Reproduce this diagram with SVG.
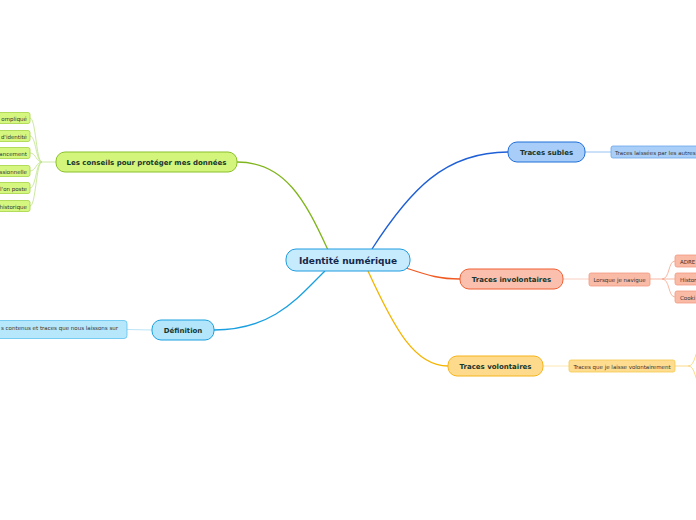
<svg xmlns="http://www.w3.org/2000/svg" width="696" height="520" viewBox="0 0 696 520">
<style>
.main{font-family:"DejaVu Sans",Verdana,sans-serif;font-weight:bold;font-size:7px;fill:#17362e;text-anchor:middle;dominant-baseline:central}
.leaf{font-family:"DejaVu Sans",Verdana,sans-serif;font-size:5.5px;fill:#333;dominant-baseline:central}
.c{fill:none;stroke-width:1.3}
.lc{fill:none;stroke-width:0.8}
</style>
<rect width="696" height="520" fill="#ffffff"/>
<g id="connectors">
<path class="c" stroke="#80b51c" d="M237,162 C285,162 305,200 328,250"/>
<path class="c" stroke="#1aa0e0" d="M214,330 C275,330 300,295 325,271"/>
<path class="c" stroke="#1e5fd6" d="M372,249 C410,190 445,152 508,152"/>
<path class="c" stroke="#f05a22" d="M406,268 C430,276 440,279 460,279"/>
<path class="c" stroke="#f5b400" d="M368,271 C395,330 415,366 448,366"/>
<g stroke="#bfe28a">
<path class="lc" d="M56,162 L42,162"/>
<path class="lc" d="M42,162 C36,162 36,118 30,118"/>
<path class="lc" d="M42,162 C36,162 36,136 30,136"/>
<path class="lc" d="M42,162 C36,162 36,153 30,153"/>
<path class="lc" d="M42,162 C36,162 36,171 30,171"/>
<path class="lc" d="M42,162 C36,162 36,188 30,188"/>
<path class="lc" d="M42,162 C36,162 36,206 30,206"/>
</g>
<path class="lc" stroke="#a8dcf5" stroke-width="1.5" d="M127,329.5 L152,330"/>
<path class="lc" stroke="#7db3ef" d="M585,152 L611,152"/>
<path class="lc" stroke="#f7c3b2" stroke-width="1.2" d="M563,279 L589,279"/>
<g stroke="#f5a58c">
<path class="lc" d="M650,279 L662,279"/>
<path class="lc" d="M662,279 C670,279 668,261 675,261"/>
<path class="lc" d="M662,279 L675,279"/>
<path class="lc" d="M662,279 C670,279 668,297 675,297"/>
</g>
<path class="lc" stroke="#fde2a0" stroke-width="1.2" d="M543,366 L569,366"/>
<g stroke="#f9cf6a">
<path class="lc" d="M675,366 L688,366"/>
<path class="lc" d="M688,366 C696,366 694,350 702,346"/>
<path class="lc" d="M688,366 C696,366 694,382 702,386"/>
</g>
</g>
<g id="center">
<rect x="286" y="249" width="124" height="22" rx="10" fill="#c6ebfc" stroke="#1f9ce0" stroke-width="1"/>
<text class="main" x="348" y="260.5" style="font-size:9px;fill:#14264a">Identité numérique</text>
</g>
<g id="conseils">
<rect x="56" y="152" width="181" height="20" rx="9" fill="#d3f57c" stroke="#8bbf2a" stroke-width="1"/>
<text class="main" x="146.5" y="162.5">Les conseils pour protéger mes données</text>
</g>
<g id="conseils-leaves">
<rect x="-10" y="112.5" width="40" height="11" rx="2" fill="#d6f77f" stroke="#a5d443" stroke-width="0.8"/>
<text class="leaf" x="27" y="118.5" text-anchor="end">ompliqué</text>
<rect x="-10" y="130.5" width="40" height="11" rx="2" fill="#d6f77f" stroke="#a5d443" stroke-width="0.8"/>
<text class="leaf" x="27" y="136.5" text-anchor="end">d'identité</text>
<rect x="-10" y="147.5" width="40" height="11" rx="2" fill="#d6f77f" stroke="#a5d443" stroke-width="0.8"/>
<text class="leaf" x="27" y="153.5" text-anchor="end">ancement</text>
<rect x="-10" y="165.5" width="40" height="11" rx="2" fill="#d6f77f" stroke="#a5d443" stroke-width="0.8"/>
<text class="leaf" x="27" y="171.5" text-anchor="end">ssionnelle</text>
<rect x="-10" y="182.5" width="40" height="11" rx="2" fill="#d6f77f" stroke="#a5d443" stroke-width="0.8"/>
<text class="leaf" x="27" y="188.5" text-anchor="end">l'on poste</text>
<rect x="-10" y="200.5" width="40" height="11" rx="2" fill="#d6f77f" stroke="#a5d443" stroke-width="0.8"/>
<text class="leaf" x="27" y="206.5" text-anchor="end">historique</text>
</g>
<g id="definition">
<rect x="152" y="320" width="62" height="20" rx="9" fill="#b3e6fb" stroke="#1aa0e0" stroke-width="1"/>
<text class="main" x="183" y="330.5">Définition</text>
</g>
<g id="definition-leaf">
<rect x="-10" y="320.5" width="137" height="18" rx="3" fill="#b7e7fb" stroke="#5cc2ef" stroke-width="0.8"/>
<text class="leaf" x="118" y="327.5" text-anchor="end">s contenus et traces que nous laissons sur</text>
</g>
<g id="subles">
<rect x="508" y="142" width="77" height="20" rx="9" fill="#a7cdf8" stroke="#1f6ed8" stroke-width="1"/>
<text class="main" x="546.5" y="152.5">Traces subles</text>
</g>
<g id="subles-leaf">
<rect x="611" y="146" width="95" height="12" rx="2" fill="#a9cff8" stroke="#6aa6ea" stroke-width="0.8"/>
<text class="leaf" x="615" y="152.5">Traces laissées par les autres</text>
</g>
<g id="involontaires">
<rect x="460" y="269" width="103" height="20" rx="9" fill="#fac0ad" stroke="#ef5f33" stroke-width="1"/>
<text class="main" x="511.5" y="279.5">Traces involontaires</text>
</g>
<g id="navigue">
<rect x="589" y="273" width="61" height="13" rx="2" fill="#f9baa6" stroke="#f29a80" stroke-width="0.8"/>
<text class="leaf" x="619.5" y="279.5" text-anchor="middle">Lorsque je navigue</text>
</g>
<g id="navigue-leaves">
<rect x="675" y="255" width="30" height="12" rx="2" fill="#f9baa6" stroke="#f29a80" stroke-width="0.8"/>
<text class="leaf" x="680" y="261.5">ADRE</text>
<rect x="675" y="273" width="30" height="12" rx="2" fill="#f9baa6" stroke="#f29a80" stroke-width="0.8"/>
<text class="leaf" x="680" y="279.5">Histor</text>
<rect x="675" y="291" width="30" height="12" rx="2" fill="#f9baa6" stroke="#f29a80" stroke-width="0.8"/>
<text class="leaf" x="680" y="297.5">Cooki</text>
</g>
<g id="volontaires">
<rect x="448" y="356" width="95" height="20" rx="9" fill="#fedb8c" stroke="#f5b31a" stroke-width="1"/>
<text class="main" x="495.5" y="366.5">Traces volontaires</text>
</g>
<g id="laisse">
<rect x="569" y="360" width="106" height="12" rx="2" fill="#fedc90" stroke="#f5c94f" stroke-width="0.8"/>
<text class="leaf" x="622" y="366.5" text-anchor="middle">Traces que je laisse volontairement</text>
</g>
</svg>
